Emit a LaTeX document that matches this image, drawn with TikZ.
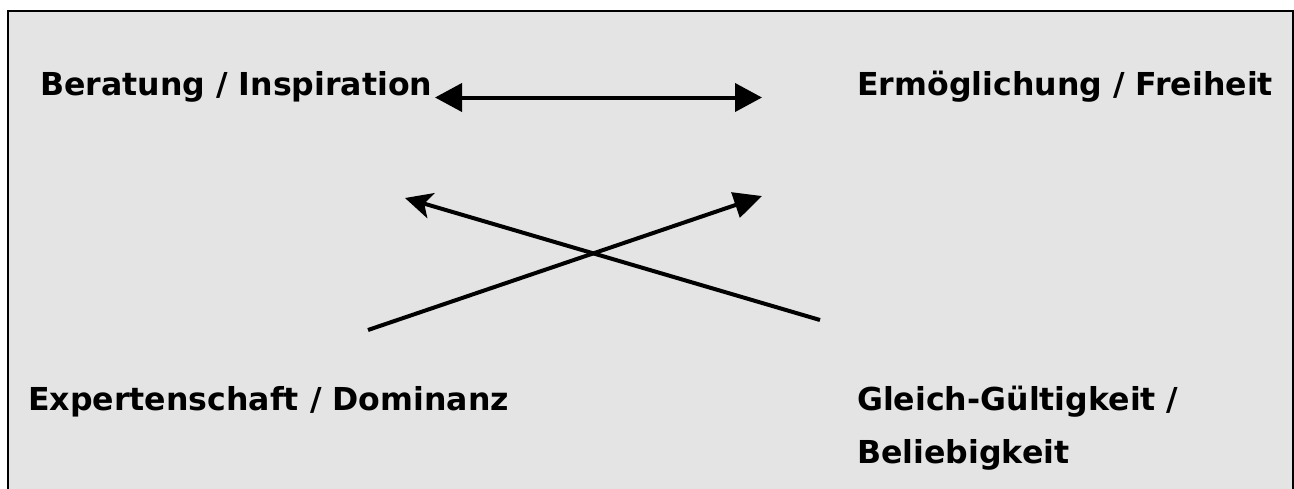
\documentclass[tikz,border=0pt]{standalone}
\usepackage{fontspec}
\setmainfont{DejaVu Sans}
\usetikzlibrary{arrows.meta}
\definecolor{panel}{RGB}{228,228,228}
\tikzset{
  lbl/.style={anchor=base west, inner sep=0pt, font=\fontsize{31.6}{53}\selectfont\bfseries, align=left},
  conn/.style={line width=4pt, black},
}
\begin{document}
\begin{tikzpicture}[x=1pt,y=-1pt]
\useasboundingbox (0,0) rectangle (1294,488);
\clip (0,0) rectangle (1294,488);
\draw[fill=panel, draw=black, line width=2pt] (8,11) rectangle (1293,520);
\node[lbl] (bi) at (40,95) {Beratung / Inspiration};
\node[lbl] (ef) at (857,95) {Ermöglichung / Freiheit};
\node[lbl] (ed) at (28,410) {Expertenschaft / Dominanz};
\node[lbl] (gb) at (857,463) {Gleich-Gültigkeit /\\Beliebigkeit};
\coordinate (h1) at (435,97.5);
\coordinate (h2) at (762,97.5);
\coordinate (a1) at (368,330);
\coordinate (a2) at (762,196);
\coordinate (b1) at (820,320);
\coordinate (b2) at (405,198);
\draw[conn, {Triangle[length=27pt,width=28pt]}-{Triangle[length=27pt,width=28pt]}] (h1) -- (h2);
\draw[conn, -{Triangle[length=28pt,width=26pt]}] (a1) -- (a2);
\draw[conn, -{Stealth[length=27pt,width=26pt,inset=7pt]}] (b1) -- (b2);
\end{tikzpicture}
\end{document}
